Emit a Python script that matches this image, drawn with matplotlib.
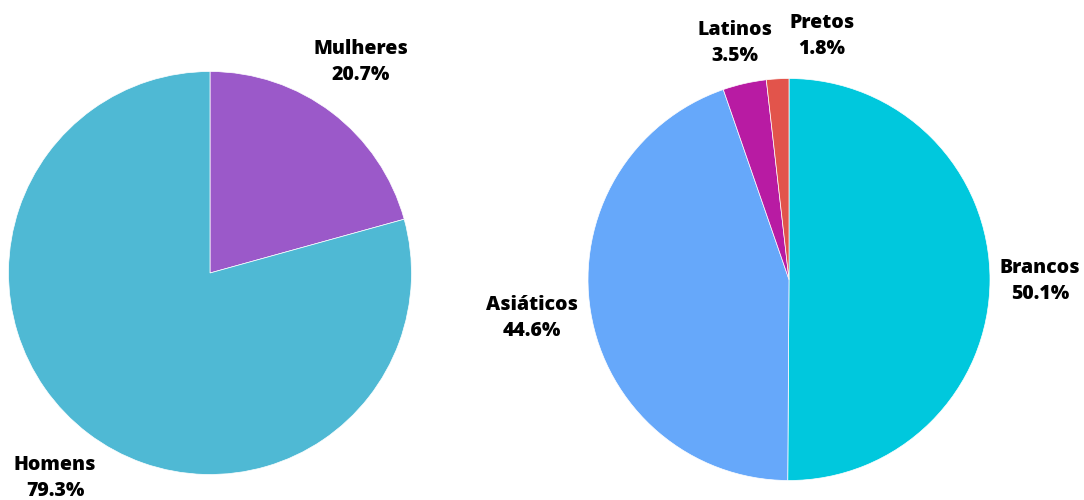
import matplotlib.pyplot as plt

# gender split
genero = ['Mulheres', 'Homens']
genero_pct = [20.7, 79.3]
genero_cores = ['#9b59c9', '#4fb9d4']

# ethnicity split
etnia = ['Brancos', 'Asiáticos', 'Latinos', 'Pretos']
etnia_pct = [50.1, 44.6, 3.5, 1.8]
etnia_cores = ['#00c8dd', '#66a8fa', '#b81ba3', '#e2544b']

W, H = 1084, 500
fig = plt.figure(figsize=(W / 100, H / 100), dpi=100)
ax = fig.add_axes([0, 0, 1, 1])

wedge_style = dict(edgecolor='white', linewidth=0.5)

ax.pie(genero_pct, colors=genero_cores, startangle=90, counterclock=False,
       center=(210, H - 273), radius=201.5, wedgeprops=wedge_style, frame=True)
ax.pie(etnia_pct, colors=etnia_cores, startangle=90, counterclock=False,
       center=(789, H - 279.5), radius=201, wedgeprops=wedge_style, frame=True)

ax.set_xlim(0, W)
ax.set_ylim(0, H)
ax.set_aspect('equal')
ax.axis('off')

label_pos = {
    'Mulheres': (361, 62),
    'Homens': (55, 478),
    'Brancos': (1040, 281),
    'Asiáticos': (532, 318),
    'Latinos': (735, 43),
    'Pretos': (822, 36),
}

txt_style = dict(ha='center', va='center', fontsize=14, fontweight=800,
                 family='Open Sans', color='black', linespacing=1.35)

for nome, pct in list(zip(genero, genero_pct)) + list(zip(etnia, etnia_pct)):
    x, y = label_pos[nome]
    ax.text(x, H - y, f'{nome}\n{pct}%', **txt_style)

fig.savefig('out.png', dpi=100, facecolor='white')
